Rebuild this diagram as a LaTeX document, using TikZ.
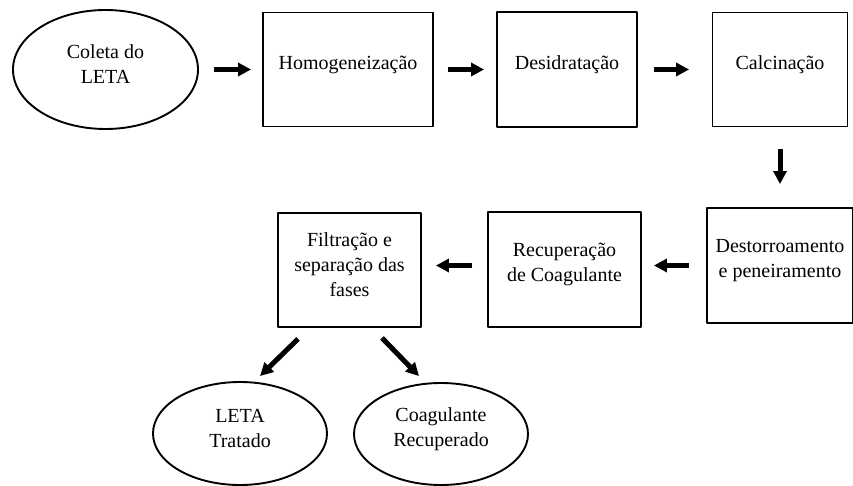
\documentclass[tikz,border=0pt]{standalone}
\usepackage{fontspec}
\setmainfont{Liberation Serif}
\usetikzlibrary{shapes.geometric,arrows.meta,calc}
\tikzset{
	caixa/.style={draw,line width=1.9pt,inner sep=0pt},
	elipse/.style={caixa,ellipse},
	texto/.style={align=center,yshift=5pt},
	seta/.style={line width=5pt,-{Triangle[length=13pt,width=13pt]}}
}
\begin{document}
\begin{tikzpicture}[x=1pt,y=-1pt,line join=round,font=\fontsize{20}{25}\selectfont]
	\useasboundingbox (0,0) rectangle (853,486);
	% linha de cima
	\node[elipse,minimum width=185,minimum height=119,label={[texto,name=coleta-t]center:Coleta do\\LETA}] (coleta) at (105.5,69.5) {};
	\node[caixa,minimum width=170,minimum height=114,label={[texto,name=homog-t]center:Homogeneização}] (homog) at (348,69.5) {};
	\node[caixa,minimum width=140,minimum height=115,label={[texto,name=desid-t]center:Desidratação}] (desid) at (567,69.5) {};
	\node[caixa,minimum width=135,minimum height=114,label={[texto,name=calc-t]center:Calcinação}] (calc) at (780,69.5) {};
	% linha do meio
	\node[caixa,minimum width=146,minimum height=115,label={[texto,name=destor-t]center:Destorroamento\\e peneiramento}] (destor) at (780,265.5) {};
	\node[caixa,minimum width=153,minimum height=115,label={[texto,name=recup-t]center:Recuperação\\de Coagulante}] (recup) at (564.5,269.5) {};
	\node[caixa,minimum width=143,minimum height=114,label={[texto,name=filtr-t]center:Filtração e\\separação das\\fases}] (filtr) at (349.5,270) {};
	% produtos
	\node[elipse,minimum width=174,minimum height=103,label={[texto,name=leta-t]center:LETA\\Tratado}] (leta) at (240,433.5) {};
	\node[elipse,minimum width=174,minimum height=102,label={[texto,name=coag-t]center:Coagulante\\Recuperado}] (coag) at (441,434) {};
	% setas
	\draw[seta,shorten <=15pt,shorten >=11pt] (coleta) -- (homog);
	\draw[seta,shorten <=14pt,shorten >=12pt] (homog) -- (desid);
	\draw[seta,shorten <=16pt,shorten >=22.5pt] (desid) -- (calc);
	\draw[seta,shorten <=21.5pt,shorten >=23pt] (calc) -- (destor);
	\draw[seta,shorten <=17pt,shorten >=12pt] (destor.west) -- (recup.east |- destor.west);
	\draw[seta,shorten <=15pt,shorten >=14pt] (recup.west |- destor.west) -- (filtr.east |- destor.west);
	\draw[seta] ($(filtr.south)+(-51.5,11)$) -- ($(leta.north)+(20,-5)$);
	\draw[seta] ($(filtr.south)+(32.5,10)$) -- ($(coag.north)+(-22,-6)$);
\end{tikzpicture}
\end{document}
